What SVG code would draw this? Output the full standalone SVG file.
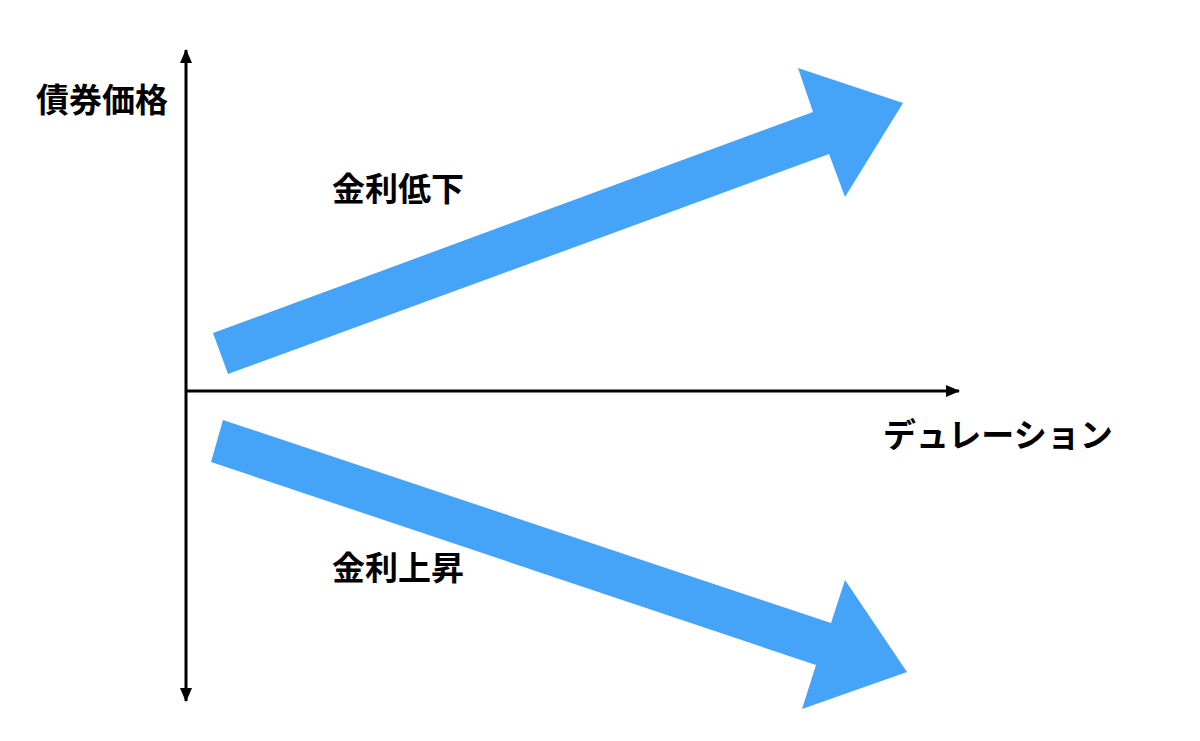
<svg xmlns="http://www.w3.org/2000/svg" width="1200" height="741" viewBox="0 0 1200 741">
<style>
.lbl{font-family:"Noto Sans CJK JP","Noto Sans CJK SC",sans-serif;font-size:33px;font-weight:bold;fill:#000}
.big{fill:#45a3f8}
.axis{stroke:#000;stroke-width:3;fill:none}
</style>
<defs>
<marker id="ah" viewBox="0 0 14 12" refX="13" refY="6" markerWidth="14" markerHeight="12" markerUnits="userSpaceOnUse" orient="auto-start-reverse">
<path d="M0,0 L14,6 L0,12 Z" fill="#000"/>
</marker>
</defs>
<rect width="1200" height="741" fill="#fff"/>
<g id="connectors">
<line id="y-axis" class="axis" x1="186" y1="50" x2="186" y2="701" marker-start="url(#ah)" marker-end="url(#ah)"/>
<line id="x-axis" class="axis" x1="186" y1="391" x2="959" y2="391" marker-end="url(#ah)"/>
</g>
<g id="arrow-up">
<polygon class="big" points="213,333 813,112 798,68 903,103 845,197 829,154 228,374"/>
</g>
<g id="arrow-down">
<polygon class="big" points="223,420 831,623 845,580 907,672 802,709 816,665 211,462"/>
</g>
<g id="label-price"><text class="lbl" x="36" y="112">債券価格</text></g>
<g id="label-fall"><text class="lbl" x="332" y="201">金利低下</text></g>
<g id="label-rise"><text class="lbl" x="332" y="580">金利上昇</text></g>
<g id="label-duration"><text class="lbl" x="883" y="447">デュレーション</text></g>
</svg>
